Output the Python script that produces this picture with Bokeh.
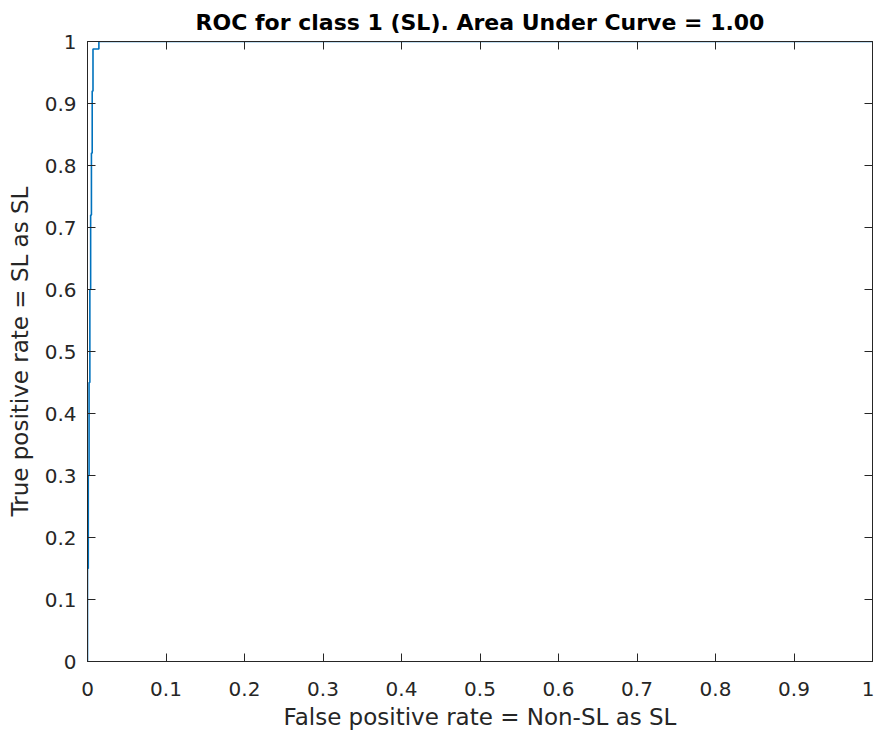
from bokeh.plotting import figure
from bokeh.models import Range1d, FixedTicker, LinearAxis
from bokeh.embed import file_html
from bokeh.resources import INLINE

# ROC curve points (false positive rate, true positive rate)
fpr = [0.0, 0.0, 0.001, 0.001, 0.002, 0.002, 0.003, 0.003, 0.004, 0.004,
       0.005, 0.005, 0.006, 0.006, 0.007, 0.007, 0.0145, 0.0145, 1.0]
tpr = [0.0, 0.15, 0.15, 0.3, 0.3, 0.45, 0.45, 0.6, 0.6, 0.72,
       0.72, 0.82, 0.82, 0.92, 0.92, 0.988, 0.988, 1.0, 1.0]

tick_vals = [0, 0.1, 0.2, 0.3, 0.4, 0.5, 0.6, 0.7, 0.8, 0.9, 1]
tick_labels = ["0", "0.1", "0.2", "0.3", "0.4", "0.5", "0.6", "0.7", "0.8", "0.9", "1"]

title_text = "ROC for class 1 (SL). Area Under Curve = 1.00"
x_label = "False positive rate = Non-SL as SL"
y_label = "True positive rate = SL as SL"

FONT = "DejaVu Sans"
AX = "#262626"

p = figure(frame_width=785, frame_height=620, output_backend="svg", toolbar_location=None,
           x_range=Range1d(0, 1), y_range=Range1d(0, 1),
           min_border_left=87, min_border_right=2, min_border_top=39, min_border_bottom=10)

p.title.text = title_text
p.title.align = "center"
p.title.text_font = FONT
p.title.text_font_size = "22px"
p.title.text_font_style = "bold"
p.title.text_color = "#000000"
p.title.standoff = 14

p.xgrid.visible = False
p.ygrid.visible = False
p.outline_line_color = AX
p.outline_line_width = 1
p.background_fill_color = "white"
p.border_fill_color = "white"

overrides = {v: l for v, l in zip(tick_vals, tick_labels)}

def style_axis(ax, show_labels=True):
    ax.ticker = FixedTicker(ticks=tick_vals)
    ax.major_label_overrides = overrides
    ax.axis_line_color = AX
    ax.axis_line_width = 1
    ax.major_tick_in = 8
    ax.major_tick_out = 0
    ax.major_tick_line_color = AX
    ax.minor_tick_line_color = None
    ax.major_label_text_font = FONT
    ax.major_label_text_font_size = "20px"
    ax.major_label_text_color = AX
    ax.axis_label_text_font = FONT
    ax.axis_label_text_font_size = "23px"
    ax.axis_label_text_font_style = "normal"
    ax.axis_label_text_color = AX
    if not show_labels:
        ax.major_label_text_font_size = "0px"
        ax.major_label_text_color = None
        ax.major_label_standoff = 0

style_axis(p.xaxis[0])
style_axis(p.yaxis[0])
p.xaxis[0].axis_label = x_label
p.yaxis[0].axis_label = y_label
p.xaxis[0].major_label_standoff = 20
p.yaxis[0].major_label_standoff = 11
p.xaxis[0].axis_label_standoff = 5
p.yaxis[0].axis_label_standoff = 9

top_ax = LinearAxis()
right_ax = LinearAxis()
style_axis(top_ax, False)
style_axis(right_ax, False)
p.add_layout(top_ax, "above")
p.add_layout(right_ax, "right")

p.line(fpr, tpr, line_color="#0072BD", line_width=1.6)

open("out.html", "w").write(file_html(p, INLINE))
